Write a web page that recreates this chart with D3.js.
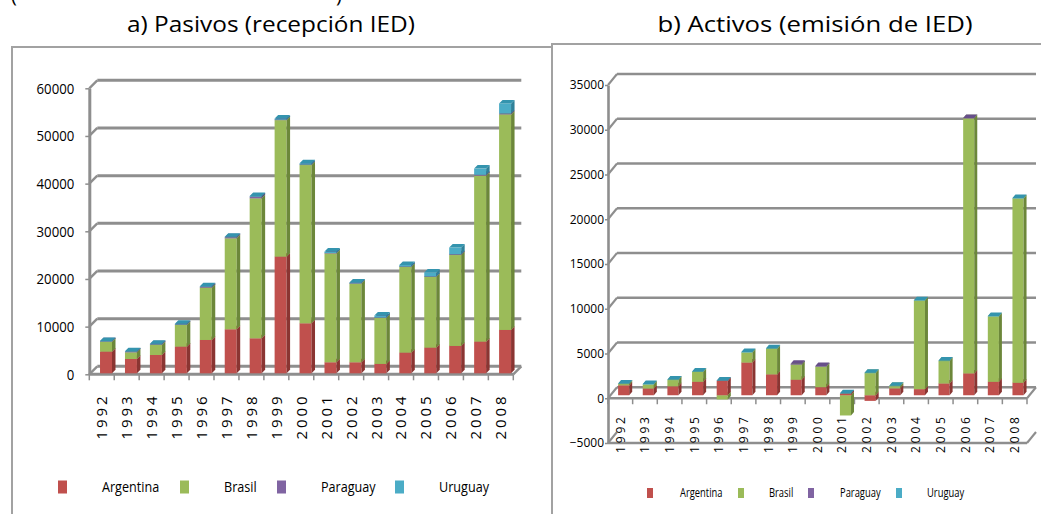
<!DOCTYPE html>
<html>
<head>
<meta charset="utf-8">
<script src="https://cdn.jsdelivr.net/npm/d3@7/dist/d3.min.js"></script>
<style>
  body { margin: 0; background: #fff; }
  svg { display: block; font-family: "Open Sans", sans-serif; }
</style>
</head>
<body>
<svg id="chart" width="1041" height="514"></svg>
<script>
// categories and series
var years = ["1992", "1993", "1994", "1995", "1996", "1997", "1998", "1999", "2000",
             "2001", "2002", "2003", "2004", "2005", "2006", "2007", "2008"];
var series = ["Argentina", "Brasil", "Paraguay", "Uruguay"];

// a) Pasivos (recepcion IED)
var pasArgentina = [4540, 3000, 3840, 5590, 6990, 9230, 7340, 24470, 10490, 2310, 2310, 1960, 4330, 5380, 5730, 6640, 9090];
var pasBrasil    = [2100, 1400, 2100, 4550, 10970, 19080, 29360, 28650, 33200, 22850, 16560, 9710, 18040, 14890, 19080, 34810, 45220];
var pasParaguay  = [100, 100, 130, 100, 150, 230, 340, 90, 100, 80, 10, 30, 30, 50, 170, 190, 200];
var pasUruguay   = [50, 100, 150, 160, 140, 130, 160, 240, 270, 300, 190, 420, 330, 850, 1400, 1300, 2100];
var pasTicks = [0, 10000, 20000, 30000, 40000, 50000, 60000];

// b) Activos (emision de IED)
var actArgentina = [1100, 750, 1000, 1500, 1600, 3650, 2330, 1730, 900, 160, -630, 770, 680, 1310, 2440, 1500, 1390];
var actBrasil    = [150, 450, 700, 1100, -470, 1120, 2850, 1690, 2280, -2260, 2480, 250, 9900, 2520, 28500, 7300, 20600];
var actParaguay  = [0, 0, 0, 0, 0, 0, 0, 100, 80, 0, 0, 0, 0, 0, 50, 0, 0];
var actUruguay   = [60, 60, 50, 60, 60, 50, 60, 0, 0, 50, 40, 40, 40, 40, 0, 50, 40];
var actTicks = [-5000, 0, 5000, 10000, 15000, 20000, 25000, 30000, 35000];

var frontColors = ["#C0504D", "#9BBB59", "#8064A2", "#4BACC6"];
var sideColors  = ["#8A3532", "#6C873A", "#5A4476", "#2F8199"];
var topColors   = ["#A9413E", "#86A54A", "#674F8A", "#3494AE"];
var gridColor = "#8e8e8e";

var svg = d3.select("#chart");

function condense(sel, f) {
  sel.each(function () {
    var w = this.getComputedTextLength();
    d3.select(this).attr("textLength", w * f).attr("lengthAdjust", "spacingAndGlyphs");
  });
}

function drawPanel(o) {
  var g = svg.append("g");
  var rows = years.map(function (yr, i) {
    var r = { year: yr };
    series.forEach(function (s, k) { r[s] = o.values[k][i]; });
    return r;
  });
  var stacked = d3.stack().keys(series).offset(d3.stackOffsetDiverging)(rows);

  var x = d3.scaleBand().domain(years).range([o.x0, o.x1]);
  var y = d3.scaleLinear().domain(o.domain).range(o.range);
  var dx = o.wall[0], dy = o.wall[1];

  // back wall gridlines and their side-wall diagonals
  g.append("g").selectAll("line")
    .data(o.ticks.filter(function (t) { return t !== o.skipBack; }))
    .join("line")
    .attr("x1", o.x0 + dx).attr("x2", o.x1 + dx)
    .attr("y1", function (d) { return y(d) - dy; })
    .attr("y2", function (d) { return y(d) - dy; })
    .attr("stroke", gridColor).attr("stroke-width", o.gw);
  g.append("g").selectAll("line")
    .data(o.ticks)
    .join("line")
    .attr("x1", o.x0).attr("x2", o.x0 + dx)
    .attr("y1", function (d) { return y(d); })
    .attr("y2", function (d) { return y(d) - dy; })
    .attr("stroke", gridColor).attr("stroke-width", o.gw * 0.8);

  // floor front edge (if the floor is below the category axis)
  if (o.floorV !== o.catV) {
    g.append("line")
      .attr("x1", o.x0).attr("x2", o.x1)
      .attr("y1", y(o.floorV)).attr("y2", y(o.floorV))
      .attr("stroke", gridColor).attr("stroke-width", o.gw);
    g.append("line")
      .attr("x1", o.x1).attr("x2", o.x1 + dx)
      .attr("y1", y(o.floorV)).attr("y2", y(o.floorV) - dy)
      .attr("stroke", gridColor).attr("stroke-width", o.gw * 0.8);
  }

  // value axis
  var ya = g.append("g")
    .attr("transform", "translate(" + o.x0 + ",0)")
    .call(d3.axisLeft(y).tickValues(o.ticks).tickSize(o.tickSize)
      .tickPadding(o.tickPad).tickSizeOuter(0).tickFormat(d3.format("d")));
  ya.select(".domain").attr("stroke", gridColor).attr("stroke-width", o.gw);
  ya.selectAll(".tick line").attr("stroke", gridColor).attr("stroke-width", 1.5);
  ya.selectAll(".tick text")
    .attr("fill", "#000")
    .style("font-family", "'Open Sans', sans-serif")
    .style("font-size", o.yFont + "px")
    .call(condense, o.yCond);

  // category axis line, end diagonal and boundary ticks
  var cy = y(o.catV);
  g.append("line")
    .attr("x1", o.x0).attr("x2", o.x1).attr("y1", cy).attr("y2", cy)
    .attr("stroke", gridColor).attr("stroke-width", o.gw);
  g.append("line")
    .attr("x1", o.x1).attr("x2", o.x1 + dx).attr("y1", cy).attr("y2", cy - dy)
    .attr("stroke", gridColor).attr("stroke-width", o.gw * 0.8);
  g.append("g").selectAll("line")
    .data(years.map(function (yr) { return x(yr); }).concat([o.x1]))
    .join("line")
    .attr("x1", function (d) { return d; }).attr("x2", function (d) { return d; })
    .attr("y1", cy).attr("y2", cy + 6)
    .attr("stroke", gridColor).attr("stroke-width", 1.5);

  // bars
  var bw = x.bandwidth();
  var bx = bw * o.barOff, w = bw * o.barW, bdx = o.depth[0], bdy = o.depth[1];
  var bars = g.append("g");
  years.forEach(function (yr, i) {
    var segs = [];
    stacked.forEach(function (s, k) {
      var a = s[i][0], b = s[i][1];
      if (a !== b) segs.push({ k: k, lo: Math.min(a, b), hi: Math.max(a, b) });
    });
    segs.sort(function (p, q) { return p.lo - q.lo; });
    var x1 = x(yr) + bx;
    var bg = bars.append("g");
    segs.forEach(function (s) {
      var yt = y(s.hi) - o.lift, yb = y(s.lo) - o.lift;
      bg.append("rect")
        .attr("x", x1).attr("y", yt).attr("width", w).attr("height", Math.max(0.5, yb - yt))
        .attr("fill", frontColors[s.k]);
      bg.append("path")
        .attr("d", "M" + (x1 + w) + "," + yt + "L" + (x1 + w + bdx) + "," + (yt - bdy) +
                   "L" + (x1 + w + bdx) + "," + (yb - bdy) + "L" + (x1 + w) + "," + yb + "Z")
        .attr("fill", sideColors[s.k]);
      bg.append("path")
        .attr("d", "M" + x1 + "," + yt + "L" + (x1 + bdx) + "," + (yt - bdy) +
                   "L" + (x1 + w + bdx) + "," + (yt - bdy) + "L" + (x1 + w) + "," + yt + "Z")
        .attr("fill", topColors[s.k]);
    });
  });

  // year labels
  var xa = g.append("g")
    .attr("transform", "translate(0," + cy + ")")
    .call(d3.axisBottom(x).tickSize(0).tickPadding(0));
  xa.select(".domain").remove();
  xa.selectAll(".tick text")
    .attr("transform", "rotate(-90)")
    .attr("x", -o.labPad).attr("y", 0).attr("dy", "0.36em")
    .attr("text-anchor", "end")
    .attr("fill", "#000")
    .style("font-family", "'Open Sans', sans-serif")
    .style("font-size", o.xFont + "px")
    .style("letter-spacing", o.xSpace + "px");

  // legend
  var lg = g.append("g");
  series.forEach(function (s, k) {
    lg.append("rect")
      .attr("x", o.legSq[k]).attr("y", o.legY - o.sqH / 2)
      .attr("width", o.sqW).attr("height", o.sqH)
      .attr("fill", frontColors[k]);
    lg.append("text")
      .attr("x", o.legTx[k]).attr("y", o.legY).attr("dy", "0.35em")
      .style("font-size", o.legFont + "px")
      .text(s)
      .call(condense, o.legCond);
  });

  // title
  svg.append("text")
    .attr("x", o.titleX).attr("y", 32)
    .attr("text-anchor", "middle")
    .style("font-size", "22px")
    .attr("textLength", o.titleW).attr("lengthAdjust", "spacingAndGlyphs")
    .text(o.title);
}

// panel frames
svg.append("path").attr("d", "M12,514V47H551")
  .attr("fill", "none").attr("stroke", "#a2a2a2").attr("stroke-width", 2);
svg.append("path").attr("d", "M552,514V44H1041")
  .attr("fill", "none").attr("stroke", "#a2a2a2").attr("stroke-width", 2);

// clipped parentheses of the line above
svg.append("text").attr("x", 11).attr("y", 2).style("font-size", "20px").text("(");
svg.append("text").attr("x", 336).attr("y", 2).style("font-size", "20px").text(")");

drawPanel({
  title: "a) Pasivos (recepción IED)", titleX: 271, titleW: 288,
  values: [pasArgentina, pasBrasil, pasParaguay, pasUruguay],
  ticks: pasTicks, domain: [0, 60000], range: [374.3, 88.3],
  x0: 89.3, x1: 513.3, wall: [8, 8], gw: 3,
  catV: 0, floorV: 0, skipBack: null,
  tickSize: 4, tickPad: 11, yFont: 15, yCond: 0.88,
  barOff: 0.43, barW: 0.48, depth: [3.5, 3.5], lift: 1,
  labPad: 19, xFont: 15, xSpace: 3,
  legSq: [58, 180, 277, 395], legTx: [102, 224, 321, 439], legY: 487,
  sqW: 9, sqH: 13, legFont: 14, legCond: 0.9
});

drawPanel({
  title: "b) Activos (emisión de IED)", titleX: 815, titleW: 315,
  values: [actArgentina, actBrasil, actParaguay, actUruguay],
  ticks: actTicks, domain: [-5000, 35000], range: [443, 85],
  x0: 608, x1: 1027, wall: [9, 11], gw: 2.6,
  catV: 0, floorV: -5000, skipBack: -5000,
  tickSize: 3, tickPad: 1, yFont: 12, yCond: 1,
  barOff: 0.41, barW: 0.45, depth: [3, 3.5], lift: 3,
  labPad: 16, xFont: 12, xSpace: 2.8,
  legSq: [647, 738, 808, 896], legTx: [680, 769, 840, 927], legY: 493,
  sqW: 6, sqH: 10, legFont: 12, legCond: 0.78
});
</script>
</body>
</html>
